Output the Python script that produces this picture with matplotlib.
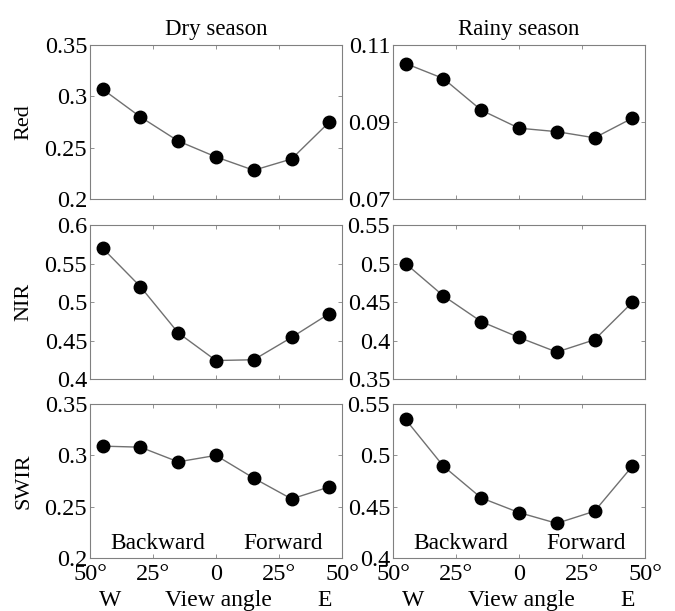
import matplotlib
matplotlib.use('Agg')
from matplotlib import pyplot as plt

plt.rcParams['font.family'] = ['Liberation Serif', 'DejaVu Serif']

angles = [-45, -30, -15, 0, 15, 30, 45]
bands = ['Red', 'NIR', 'SWIR']
seasons = ['Dry season', 'Rainy season']

dry_red = [0.307, 0.280, 0.2565, 0.241, 0.228, 0.239, 0.275]
rainy_red = [0.1052, 0.1013, 0.0931, 0.0884, 0.0875, 0.0859, 0.0910]
dry_nir = [0.570, 0.520, 0.460, 0.424, 0.425, 0.454, 0.485]
rainy_nir = [0.500, 0.458, 0.4246, 0.404, 0.385, 0.401, 0.4496]
dry_swir = [0.309, 0.308, 0.2937, 0.300, 0.2778, 0.2576, 0.2693]
rainy_swir = [0.535, 0.4895, 0.4586, 0.4443, 0.4338, 0.4456, 0.4895]

values = [[dry_red, rainy_red], [dry_nir, rainy_nir], [dry_swir, rainy_swir]]
ylims = [[(0.2, 0.35), (0.07, 0.11)], [(0.4, 0.6), (0.35, 0.55)], [(0.2, 0.35), (0.4, 0.55)]]
yticks = [[[0.2, 0.25, 0.3, 0.35], [0.07, 0.09, 0.11]],
          [[0.4, 0.45, 0.5, 0.55, 0.6], [0.35, 0.4, 0.45, 0.5, 0.55]],
          [[0.2, 0.25, 0.3, 0.35], [0.4, 0.45, 0.5, 0.55]]]
xtick_pos = [-50, -25, 0, 25, 50]
xtick_lab = ['50°', '25°', '0', '25°', '50°']
dir_pos = [-42, 1, 43]
dir_lab = ['W', 'View angle', 'E']

fig = plt.figure(figsize=(6.75, 6.11), dpi=100)
lefts = [0.1333, 0.5822]
bottoms = [0.6743, 0.3797, 0.0867]
w, h = 0.3733, 0.252

for r in range(3):
    for c in range(2):
        ax = fig.add_axes([lefts[c], bottoms[r], w, h])
        ax.plot(angles, values[r][c], color='#707070', lw=1.0,
                marker='o', ms=9, mfc='black', mec='black')
        ax.set_xlim(-50, 50)
        ax.set_ylim(*ylims[r][c])
        ax.set_yticks(yticks[r][c])
        ax.set_yticklabels([f'{v:g}' for v in yticks[r][c]])
        ax.set_xticks(xtick_pos)
        if r == 2:
            ax.set_xticklabels(xtick_lab)
            ax.text(-23, 0.095, 'Backward', transform=ax.get_xaxis_transform(),
                    ha='center', va='center', fontsize=16.8)
            ax.text(26.5, 0.095, 'Forward', transform=ax.get_xaxis_transform(),
                    ha='center', va='center', fontsize=16.8)
            for xp, lab in zip(dir_pos, dir_lab):
                ax.text(xp, -0.275, lab, transform=ax.get_xaxis_transform(),
                        ha='center', va='center', fontsize=17)
        else:
            ax.set_xticklabels([])
        ax.tick_params(direction='in', length=3, width=0.6, color='#808080',
                       top=True, right=True, labelsize=17.5, pad=2)
        ax.tick_params(axis='x', pad=4)
        for s in ax.spines.values():
            s.set_color('#808080')
            s.set_linewidth(0.8)
        if r == 0:
            ax.set_title(seasons[c], fontsize=16.5, pad=7)
        if c == 0:
            ax.set_ylabel(bands[r], fontsize=16)
            ax.yaxis.set_label_coords(-0.225, 0.5)

fig.savefig('out.png', dpi=100)
